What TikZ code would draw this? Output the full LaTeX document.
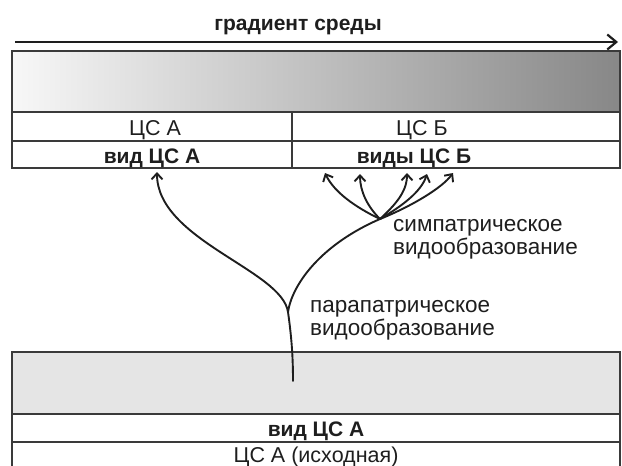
\documentclass[tikz,border=0pt]{standalone}
\usepackage{fontspec}
\setmainfont{Liberation Sans}
\usetikzlibrary{arrows.meta}
\definecolor{ink}{HTML}{1E1E1E}
\definecolor{frame}{HTML}{3A3A3A}
\begin{document}
\begin{tikzpicture}[x=1pt,y=-1pt,
  every node/.style={inner sep=0pt, text=ink},
  txt/.style={font=\fontsize{21.5}{21}\selectfont, anchor=base},
  boldtxt/.style={font=\fontsize{21}{21}\selectfont\bfseries, anchor=base},
  lbl/.style={font=\fontsize{22.5}{21}\selectfont, anchor=base west, align=left},
  boxline/.style={draw=frame, line width=1.1pt},
  thickline/.style={draw=frame, line width=2.2pt},
  conn/.style={draw=ink, line width=1.9pt, line cap=round,
    -{Straight Barb[length=6pt,width=11pt,line width=1.9pt]}},
  trunk/.style={draw=ink, line width=1.9pt, line cap=round}
]
\useasboundingbox (0,0) rectangle (622,466);

% title and gradient arrow
\node[boldtxt] (title) at (298,30) {градиент среды};
\coordinate (gs) at (15,42);
\coordinate (ge) at (618,42);
\draw[draw=ink, line width=2.2pt, -{Straight Barb[length=9pt,width=15pt,line width=2.2pt]}] (gs) -- (ge);

% upper block
\shade[left color=white!97!black, right color=black!47] (12,51) rectangle (620,112);
\draw[boxline] (12,51) rectangle (620,168);
\draw[boxline] (12,141) -- (620,141);
\draw[boxline] (292,112) -- (292,168);
\draw[thickline] (12,112) -- (620,112);

\node[txt] (csa) at (155,135) {ЦС А};
\node[txt] (csb) at (422,135) {ЦС Б};
\node[boldtxt] (vida) at (152,163) {вид ЦС А};
\node[boldtxt] (vidb) at (414,163) {виды ЦС Б};

% lower block
\fill[black!10] (12,352) rectangle (620,414);
\draw[boxline] (12,466) -- (12,352) -- (620,352) -- (620,466);
\draw[boxline] (12,442) -- (620,442);
\draw[thickline] (12,414) -- (620,414);
\node[boldtxt] (vid0) at (316,436) {вид ЦС А};
\node[txt] (cs0) at (316,462) {ЦС А (исходная)};

% tree
\coordinate (root) at (293,381);
\coordinate (fork) at (288,312);
\coordinate (sym) at (380,219);
\coordinate (tA) at (157,172);
\coordinate (t1) at (325,173);
\coordinate (t2) at (360,174);
\coordinate (t3) at (407,173);
\coordinate (t4) at (427,174);
\coordinate (t5) at (453,173);

\draw[trunk] (root) .. controls (293,360) and (292,340) .. (fork);
\draw[conn] (fork) .. controls (282,270) and (157,240) .. (tA);
\draw[trunk] (fork) .. controls (292,285) and (320,245) .. (sym);
\draw[conn] (sym) .. controls (355,207) and (334,192) .. (t1);
\draw[conn] (sym) .. controls (368,207) and (360,192) .. (t2);
\draw[conn] (sym) .. controls (395,205) and (407,192) .. (t3);
\draw[conn] (sym) .. controls (402,206) and (421,192) .. (t4);
\draw[conn] (sym) .. controls (412,206) and (442,188) .. (t5);

% labels (anchor = baseline of the last line)
\node[lbl] (symp) at (393,254) {симпатрическое\\видообразование};
\node[lbl] (parap) at (310,335) {парапатрическое\\видообразование};
\end{tikzpicture}
\end{document}
